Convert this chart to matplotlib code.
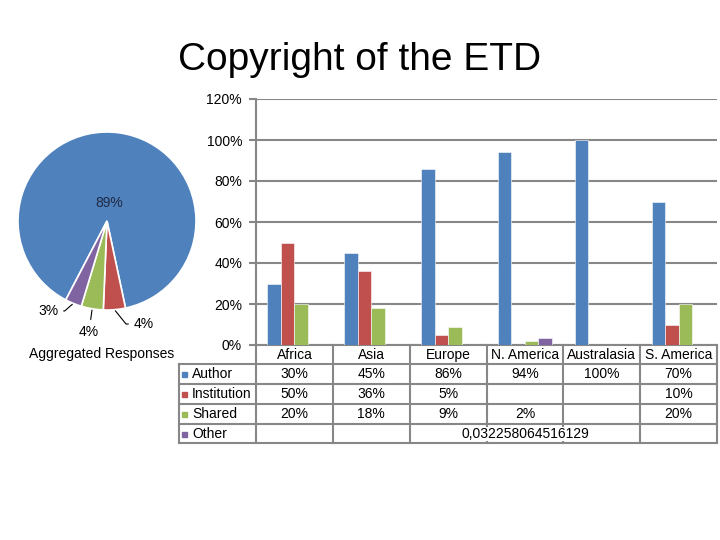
import numpy as np
import matplotlib
matplotlib.use('Agg')
import matplotlib.pyplot as plt
from matplotlib.transforms import blended_transform_factory
from matplotlib.lines import Line2D
from matplotlib.patches import Rectangle

plt.rcParams['font.family'] = ['Liberation Sans', 'DejaVu Sans']

# data
regions = ['Africa', 'Asia', 'Europe', 'N. America', 'Australasia', 'S. America']
author = [0.30, 0.45, 0.86, 0.94, 1.00, 0.70]
institution = [0.50, 0.36, 0.05, None, None, 0.10]
shared = [0.20, 0.18, 0.09, 0.02, None, 0.20]
other = [None, None, None, 0.032258064516129, None, None]
series_names = ['Author', 'Institution', 'Shared', 'Other']
series = [author, institution, shared, other]

pie_values = [89, 4, 4, 3]
pie_labels = ['89%', '4%', '4%', '3%']

colors = ['#4F81BD', '#C0504D', '#9BBB59', '#8064A2']
gridc = '#878787'

W, H = 720, 540
fig = plt.figure(figsize=(7.2, 5.4), dpi=100)


def fx(px):
    return px / W


def fy(py):
    return 1 - py / H


fig.text(0.5, fy(70), 'Copyright of the ETD', ha='center', va='baseline', fontsize=28)

# pie on the left
pcx, pcy, pr = 107, 221, 89
ax_pie = fig.add_axes([fx(pcx - pr), fy(pcy + pr), 2 * pr / W, 2 * pr / H])
wedges, _ = ax_pie.pie(pie_values, colors=colors, startangle=-117.6, counterclock=False,
                       wedgeprops=dict(edgecolor='white', linewidth=1.2))
ax_pie.set_xlim(-1, 1)
ax_pie.set_ylim(-1, 1)
ax_pie.axis('off')

# label spots for the small slices (pixels) and their leader styles
label_px = [None, (144, 324), (89, 332), (48, 311)]
leaders = [None, 'angle,angleA=0,angleB=-51', 'arc3', 'angle,angleA=0,angleB=41']
for w, lab, pos, cs in zip(wedges, pie_labels, label_px, leaders):
    mid = np.deg2rad((w.theta1 + w.theta2) / 2)
    if pos is None:
        ax_pie.text(0.2 * np.cos(mid), 0.2 * np.sin(mid), lab, ha='center', va='center',
                    fontsize=10, color='#1F2A44')
    else:
        tx, ty = (pos[0] - pcx) / pr, (pcy - pos[1]) / pr
        ax_pie.annotate(lab, xy=(np.cos(mid), np.sin(mid)), xytext=(tx, ty),
                        ha='center', va='center', fontsize=10,
                        arrowprops=dict(arrowstyle='-', color='black', lw=0.8,
                                        shrinkA=2, shrinkB=1, connectionstyle=cs))
fig.text(fx(102), fy(354), 'Aggregated Responses', ha='center', va='center', fontsize=10)

# bar chart
ax = fig.add_axes([fx(256), fy(345), (717 - 256) / W, (345 - 99) / H])
x = np.arange(len(regions))
bw = 0.176
for k, (vals, c) in enumerate(zip(series, colors)):
    xs = [xi + (k - 1.5) * bw for xi, v in zip(x, vals) if v is not None]
    hs = [v for v in vals if v is not None]
    ax.bar(xs, hs, width=bw, color=c, edgecolor='white', linewidth=0.4, zorder=3)

ax.set_xlim(-0.5, len(regions) - 0.5)
ax.set_ylim(0, 1.2)
yt = [0, 0.2, 0.4, 0.6, 0.8, 1.0, 1.2]
ax.set_yticks(yt)
ax.set_yticklabels([f'{round(v * 100)}%' for v in yt])
ax.set_xticks([])
ax.yaxis.grid(True, color=gridc, lw=1.5)
ax.set_axisbelow(True)
for s in ['top', 'right']:
    ax.spines[s].set_visible(False)
for s in ['left', 'bottom']:
    ax.spines[s].set_color(gridc)
    ax.spines[s].set_linewidth(1.5)
ax.tick_params(axis='y', length=5, color=gridc, width=1.5, labelsize=10, pad=5)
ax.patch.set_alpha(0)

# data table under the bars
tr = blended_transform_factory(ax.transData, fig.transFigure)
rows = [345, 364, 384, 404, 424, 443]
x_right = ax.get_position().x1
bounds = [i - 0.5 for i in range(len(regions) + 1)]


def hline(py, x0, x1):
    fig.add_artist(Line2D([x0, x1], [fy(py), fy(py)], transform=fig.transFigure,
                          color=gridc, lw=1.5, zorder=2))


def vline_data(xd, py0, py1):
    fig.add_artist(Line2D([xd, xd], [fy(py0), fy(py1)], transform=tr,
                          color=gridc, lw=1.5, zorder=2))


for py in rows[1:]:
    hline(py, fx(179), x_right)
for b in bounds:
    vline_data(b, rows[0], rows[-1])
fig.add_artist(Line2D([fx(179), fx(179)], [fy(rows[1]), fy(rows[-1])],
                      transform=fig.transFigure, color=gridc, lw=1.5, zorder=2))

for i, name in enumerate(regions):
    fig.text(i, fy((rows[0] + rows[1]) / 2 + 4.5), name, transform=tr, ha='center',
             va='baseline', fontsize=10, zorder=3)

for r, (name, vals, c) in enumerate(zip(series_names, series, colors)):
    yc = (rows[r + 1] + rows[r + 2]) / 2
    fig.add_artist(Rectangle((fx(182), fy(yc + 3)), 5 / W, 5 / H,
                             transform=fig.transFigure, color=c, zorder=3))
    fig.text(fx(192), fy(yc + 4.5), name, ha='left', va='baseline', fontsize=10, zorder=3)
    for i, v in enumerate(vals):
        if v is None:
            continue
        if name == 'Other':
            lab = f'{v}'.replace('.', ',')
        else:
            lab = f'{round(v * 100)}%'
        fig.text(i, fy(yc + 4.5), lab, transform=tr, ha='center', va='baseline', fontsize=10,
                 zorder=3, bbox=dict(facecolor='white', edgecolor='none', pad=0.3))

fig.savefig('out.png', dpi=100)
